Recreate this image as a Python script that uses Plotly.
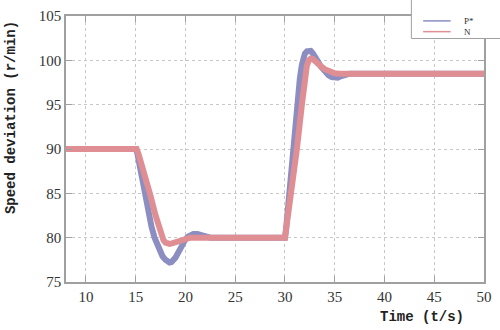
import plotly.graph_objects as go

# ---- data ----
t_p = [8, 15.0, 15.15, 15.3, 15.45, 15.6, 15.85, 16.2, 16.6, 16.9, 17.3, 17.7, 18.0, 18.2, 18.4, 18.6,
       18.8, 19.0, 19.2, 19.4, 19.6, 19.8, 20.0, 20.25, 20.5, 20.8, 21.2, 21.6, 22.0, 22.5, 23.5, 30.0,
       30.1, 30.2, 30.4, 30.75, 31.2, 31.5, 31.7, 31.85, 32.0, 32.2, 32.4, 32.6, 32.8, 33.0, 33.3, 33.6,
       33.8, 34.1, 34.4, 34.7, 35.0, 35.3, 35.6, 36.0, 36.5, 37, 50]
v_p = [90, 90, 89.6, 88.7, 87.7, 86.6, 84.9, 83.0, 81.2, 80.0, 78.8, 77.9, 77.5, 77.3, 77.2, 77.25,
       77.45, 77.75, 78.15, 78.6, 79.05, 79.45, 79.8, 80.1, 80.3, 80.4, 80.4, 80.25, 80.1, 80.0, 80.0, 80.0,
       80.8, 82.0, 84.9, 90.0, 95.0, 98.0, 99.5, 100.3, 100.75, 101.0, 101.1, 101.05, 100.8, 100.5, 99.9, 99.3,
       99.0, 98.6, 98.3, 98.1, 98.0, 98.05, 98.2, 98.4, 98.5, 98.5, 98.5]

t_n = [8, 15.1, 15.3, 15.5, 16.0, 16.45, 17.0, 17.6, 17.8, 18.0, 18.2, 18.4, 18.65, 18.9, 19.2, 19.5,
       19.8, 20.1, 20.5, 21, 30.0, 30.3, 30.6, 31.2, 31.7, 32.0, 32.2, 32.4, 32.6, 32.8, 33.0, 33.3,
       33.6, 34.0, 34.5, 35.0, 35.5, 36.5, 50]
v_n = [90, 90, 89.4, 88.5, 86.6, 84.9, 82.5, 80.2, 79.7, 79.45, 79.32, 79.3, 79.35, 79.45, 79.6, 79.75,
       79.88, 79.96, 80.0, 80, 80, 82.5, 84.9, 90.0, 95.0, 98.0, 99.4, 100.0, 100.2, 100.15, 100.0, 99.7,
       99.35, 99.0, 98.7, 98.55, 98.5, 98.5, 98.5]

series_names = ["P*", "N"]
x_ticks = [10, 15, 20, 25, 30, 35, 40, 45, 50]
y_ticks = [75, 80, 85, 90, 95, 100, 105]

col_p = "#8c8ec2"
col_n = "#df8e94"

fig = go.Figure()
fig.add_trace(go.Scatter(x=t_p, y=v_p, mode="lines", name=series_names[0],
                         line=dict(color=col_p, width=6), showlegend=False, hoverinfo="skip"))
fig.add_trace(go.Scatter(x=t_n, y=v_n, mode="lines", name=series_names[1],
                         line=dict(color=col_n, width=6), showlegend=False, hoverinfo="skip"))

axis_common = dict(
    showgrid=True, gridcolor="#c8c8c8", griddash="dot", gridwidth=1,
    showline=True, linecolor="#a0a0a0", linewidth=1.5, mirror="ticks",
    ticks="inside", ticklen=6, tickcolor="#a0a0a0",
    tickfont=dict(family="Liberation Serif", size=15, color="#333333"),
    zeroline=False,
)
fig.update_xaxes(range=[8, 50], tickvals=x_ticks, **axis_common)
fig.update_yaxes(range=[75, 105], tickvals=y_ticks, **axis_common)

title_font = dict(family="Liberation Mono", size=14, color="#222222")
fig.add_annotation(text="<b>Speed deviation (r/min)</b>", textangle=-90,
                   xref="paper", yref="paper", x=-0.131, y=0.617,
                   xanchor="center", yanchor="middle", showarrow=False, font=title_font)
fig.add_annotation(text="<b>Time (t/s)</b>",
                   xref="paper", yref="paper", x=(429 - 66) / 426, y=(282 - 318) / 272,
                   xanchor="center", yanchor="middle", showarrow=False, font=title_font)

# manual legend
def px(xp):
    return (xp - 66) / 426

def py(yp):
    return (282 - yp) / 272

fig.add_shape(type="rect", xref="paper", yref="paper", x0=px(418), x1=px(520), y0=py(33), y1=py(-15),
              line=dict(color="#a0a0a0", width=1), fillcolor="white", layer="above")
for i, (nm, c) in enumerate(zip(series_names, [col_p, col_n])):
    yy = 15 + 11 * i
    fig.add_shape(type="line", xref="paper", yref="paper", x0=px(430), x1=px(458), y0=py(yy), y1=py(yy),
                  line=dict(color=c, width=1.5), layer="above")
    fig.add_annotation(text=nm, xref="paper", yref="paper", x=px(470), y=py(yy),
                       xanchor="left", yanchor="middle", showarrow=False,
                       font=dict(family="Liberation Serif", size=9, color="#333333"))

fig.update_layout(
    width=500, height=330,
    margin=dict(l=66, r=8, t=10, b=48),
    paper_bgcolor="white", plot_bgcolor="white",
    showlegend=False,
)

fig.write_html("out.html", config={"displayModeBar": False},
               post_script="document.body.style.margin='0';document.body.style.overflow='hidden';")
